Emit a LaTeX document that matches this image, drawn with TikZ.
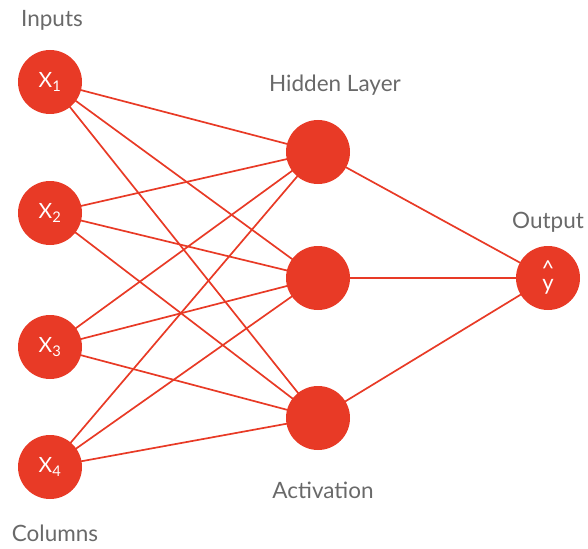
\documentclass[tikz,border=0pt]{standalone}
\usepackage{fontspec}
\setmainfont{Lato}
\usepackage{tikz}
\usetikzlibrary{positioning}

\definecolor{nodered}{RGB}{232,58,38}
\definecolor{labelgray}{RGB}{105,105,105}

\begin{document}
\begin{tikzpicture}[
    x=1pt, y=-1pt,
    neuron/.style={circle, fill=nodered, minimum size=64pt, inner sep=0pt, text=white, font=\fontsize{21}{21}\selectfont},
    layerlabel/.style={text=labelgray, anchor=base, font=\fontsize{22.5}{22.5}\selectfont},
    link/.style={nodered, line width=1.7pt}
]
\useasboundingbox (0,0) rectangle (588,548);

% connections are drawn first, below the neurons
\coordinate (cx1) at (50,82);
\coordinate (cx2) at (50,213);
\coordinate (cx3) at (50,347);
\coordinate (cx4) at (50,467);
\coordinate (ch1) at (318,152);
\coordinate (ch2) at (318,278);
\coordinate (ch3) at (318,418);
\coordinate (cout) at (548,278);

\foreach \i in {1,...,4}
  \foreach \j in {1,2,3}
    \draw[link] (cx\i) -- (ch\j);
\foreach \j in {1,2,3}
  \draw[link] (ch\j) -- (cout);

% layers
\node[neuron] (x1) at (cx1) {X\textsubscript{1}};
\node[neuron] (x2) at (cx2) {X\textsubscript{2}};
\node[neuron] (x3) at (cx3) {X\textsubscript{3}};
\node[neuron] (x4) at (cx4) {X\textsubscript{4}};

\node[neuron] (h1) at (ch1) {};
\node[neuron] (h2) at (ch2) {};
\node[neuron] (h3) at (ch3) {};

\node[neuron, align=center, font=\fontsize{22}{14}\selectfont] (out) at (cout) {\^{}\\y};

% labels
\node[layerlabel] (inlbl) at (52,27) {Inputs};
\node[layerlabel] (hidlbl) at (335,92) {Hidden Layer};
\node[layerlabel] (outlbl) at (548,228) {Output};
\node[layerlabel] (actlbl) at (323,498) {Activation};
\node[layerlabel] (collbl) at (55,541) {Columns};

\end{tikzpicture}
\end{document}
